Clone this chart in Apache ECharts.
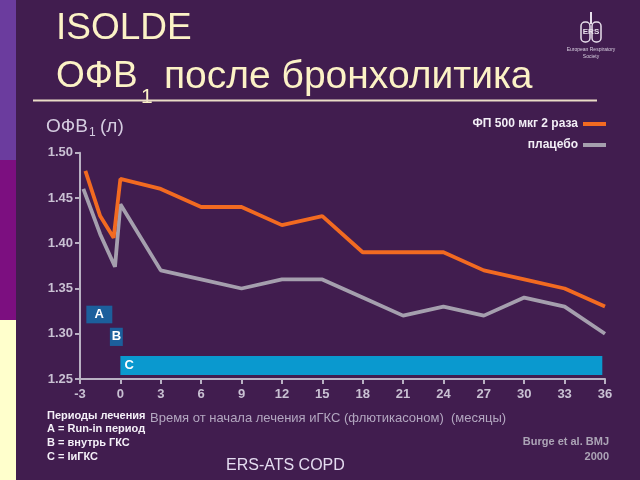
<!DOCTYPE html>
<html>
<head>
<meta charset="utf-8">
<script src="https://cdn.jsdelivr.net/npm/echarts@6/dist/echarts.min.js"></script>
<style>
html,body{margin:0;padding:0;background:#411d4f;}
#c{width:640px;height:480px;}
</style>
</head>
<body>
<div id="c"></div>
<script>
// ---- data ----
var seriesNames = ['ФП 500 мкг 2 раза', 'плацебо'];
var fpMonths = [-2.6, -1.5, -0.5, 0, 3, 6, 9, 12, 15, 18, 21, 24, 27, 30, 33, 36];
var fpValues = [1.48, 1.43, 1.406, 1.471, 1.46, 1.44, 1.44, 1.42, 1.43, 1.39, 1.39, 1.39, 1.37, 1.36, 1.35, 1.33];
var placeboMonths = [-2.75, -1.5, -0.4, 0, 3, 6, 9, 12, 15, 18, 21, 24, 27, 30, 33, 36];
var placeboValues = [1.46, 1.41, 1.374, 1.443, 1.37, 1.36, 1.35, 1.36, 1.36, 1.34, 1.32, 1.33, 1.32, 1.34, 1.33, 1.30];
var xTicks = [-3, 0, 3, 6, 9, 12, 15, 18, 21, 24, 27, 30, 33, 36];
var yTicks = [1.25, 1.30, 1.35, 1.40, 1.45, 1.50];
// treatment period boxes (data coordinates: months / FEV1)
var periodLabels = ['A', 'B', 'C'];
var periodStart = [-2.53, -0.78, 0];
var periodEnd = [-0.6, 0.18, 35.8];
var periodLow = [1.3115, 1.2865, 1.2544];
var periodHigh = [1.331, 1.3066, 1.2754];
var periodColors = ['#1c5f9c', '#1c5f9c', '#0a99cf'];

var FONT = '"Liberation Sans", Arial, sans-serif';

function pairs(xs, ys) { return xs.map(function (x, i) { return [x, ys[i]]; }); }

var markAreaData = periodLabels.map(function (lab, i) {
  return [{
    name: lab,
    xAxis: periodStart[i], yAxis: periodHigh[i],
    itemStyle: { color: periodColors[i], opacity: 1 },
    label: {
      show: true, position: i === 2 ? 'insideLeft' : 'inside', distance: 4,
      color: '#ffffff', fontWeight: 'bold', fontSize: 13, fontFamily: FONT
    }
  }, { xAxis: periodEnd[i], yAxis: periodLow[i] }];
});

function txt(x, y, text, font, fill, align) {
  return { type: 'text', x: x, y: y, style: { text: text, fill: fill, font: font, textAlign: align || 'left', textVerticalAlign: 'middle' } };
}

var chart = echarts.init(document.getElementById('c'));
var cream = '#fcf2c6';
chart.setOption({
  backgroundColor: '#411d4f',
  animation: false,
  grid: { left: 80, right: 35, top: 152.7, bottom: 101 },
  legend: {
    data: seriesNames,
    orient: 'vertical', align: 'right',
    right: 34, top: 117, padding: 0,
    itemWidth: 23, itemHeight: 4, itemGap: 7,
    icon: 'rect',
    textStyle: { color: '#f2eef6', fontWeight: 'bold', fontSize: 12, fontFamily: FONT, lineHeight: 14 }
  },
  xAxis: {
    type: 'value', min: -3, max: 36, interval: 3,
    axisLine: { show: true, onZero: false, lineStyle: { color: '#b9b1c3', width: 2 } },
    axisTick: { show: true, length: 5, lineStyle: { color: '#b9b1c3', width: 2 } },
    splitLine: { show: false },
    axisLabel: {
      margin: 9, color: '#c9c1d3', fontWeight: 'bold', fontSize: 13, fontFamily: FONT,
      customValues: xTicks
    }
  },
  yAxis: {
    type: 'value', min: 1.25, max: 1.50, interval: 0.05,
    axisLine: { show: true, onZero: false, lineStyle: { color: '#b9b1c3', width: 2 } },
    axisTick: { show: true, length: 5, lineStyle: { color: '#b9b1c3', width: 2 } },
    splitLine: { show: false },
    axisLabel: {
      margin: 7, color: '#c9c1d3', fontWeight: 'bold', fontSize: 13, fontFamily: FONT,
      formatter: function (v) { return v.toFixed(2); }
    }
  },
  series: [
    {
      name: 'periods', type: 'line', data: [], silent: true,
      markArea: { silent: true, data: markAreaData }
    },
    {
      name: seriesNames[0], type: 'line', data: pairs(fpMonths, fpValues),
      showSymbol: false, symbol: 'none', color: '#f26a21',
      lineStyle: { color: '#f26a21', width: 3.8 }, z: 4
    },
    {
      name: seriesNames[1], type: 'line', data: pairs(placeboMonths, placeboValues),
      showSymbol: false, symbol: 'none', color: '#a59fae',
      lineStyle: { color: '#a59fae', width: 3.8 }, z: 3
    }
  ],
  graphic: [
    // left stripe
    { type: 'rect', shape: { x: 0, y: 0, width: 16, height: 160 }, style: { fill: '#6b3c9e' } },
    { type: 'rect', shape: { x: 0, y: 160, width: 16, height: 160 }, style: { fill: '#7c0f80' } },
    { type: 'rect', shape: { x: 0, y: 320, width: 16, height: 160 }, style: { fill: '#ffffcc' } },
    // title
    txt(56, 29, 'ISOLDE', '37px ' + FONT, cream),
    txt(56, 77, 'ОФВ', '37px ' + FONT, cream),
    txt(141, 97, '1', '21px ' + FONT, cream),
    txt(164, 77, 'после бронхолитика', '39px ' + FONT, cream),
    { type: 'line', shape: { x1: 33, y1: 100.5, x2: 597, y2: 100.5 }, style: { stroke: '#e9dcc6', lineWidth: 2 } },
    // logo (approximation)
    { type: 'line', shape: { x1: 591, y1: 12, x2: 591, y2: 24 }, style: { stroke: '#e8e0ec', lineWidth: 2 } },
    { type: 'rect', shape: { x: 581, y: 22, width: 9, height: 20, r: 4 }, style: { stroke: '#e8e0ec', fill: 'none', lineWidth: 1.5 } },
    { type: 'rect', shape: { x: 592, y: 22, width: 9, height: 20, r: 4 }, style: { stroke: '#e8e0ec', fill: 'none', lineWidth: 1.5 } },
    txt(591, 32, 'ERS', 'bold 8px ' + FONT, '#e8e0ec', 'center'),
    txt(591, 50, 'European Respiratory', '5px ' + FONT, '#d8d0e0', 'center'),
    txt(591, 57, 'Society', '5px ' + FONT, '#d8d0e0', 'center'),
    // y axis name
    txt(46, 127, 'ОФВ', '19px ' + FONT, '#d4cce0'),
    txt(89, 133, '1', '12px ' + FONT, '#d4cce0'),
    txt(100, 127, '(л)', '19px ' + FONT, '#d4cce0'),
    // x axis name
    txt(150, 418, 'Время от начала лечения иГКС (флютикасоном)  (месяцы)', '13px ' + FONT, '#b3a7c0'),
    // period legend
    txt(47, 416, 'Периоды лечения', 'bold 11px ' + FONT, '#f4f0f8'),
    txt(47, 429, 'A = Run-in период', 'bold 11px ' + FONT, '#f4f0f8'),
    txt(47, 443, 'B = внутрь ГКС', 'bold 11px ' + FONT, '#f4f0f8'),
    txt(47, 457, 'C = IиГКС', 'bold 11px ' + FONT, '#f4f0f8'),
    // reference
    txt(609, 442, 'Burge et al. BMJ', 'bold 11px ' + FONT, '#aca4b6', 'right'),
    txt(609, 457, '2000', 'bold 11px ' + FONT, '#aca4b6', 'right'),
    // footer
    txt(226, 466, 'ERS-ATS COPD', '16px ' + FONT, '#e4dcf0')
  ]
});
</script>
</body>
</html>
